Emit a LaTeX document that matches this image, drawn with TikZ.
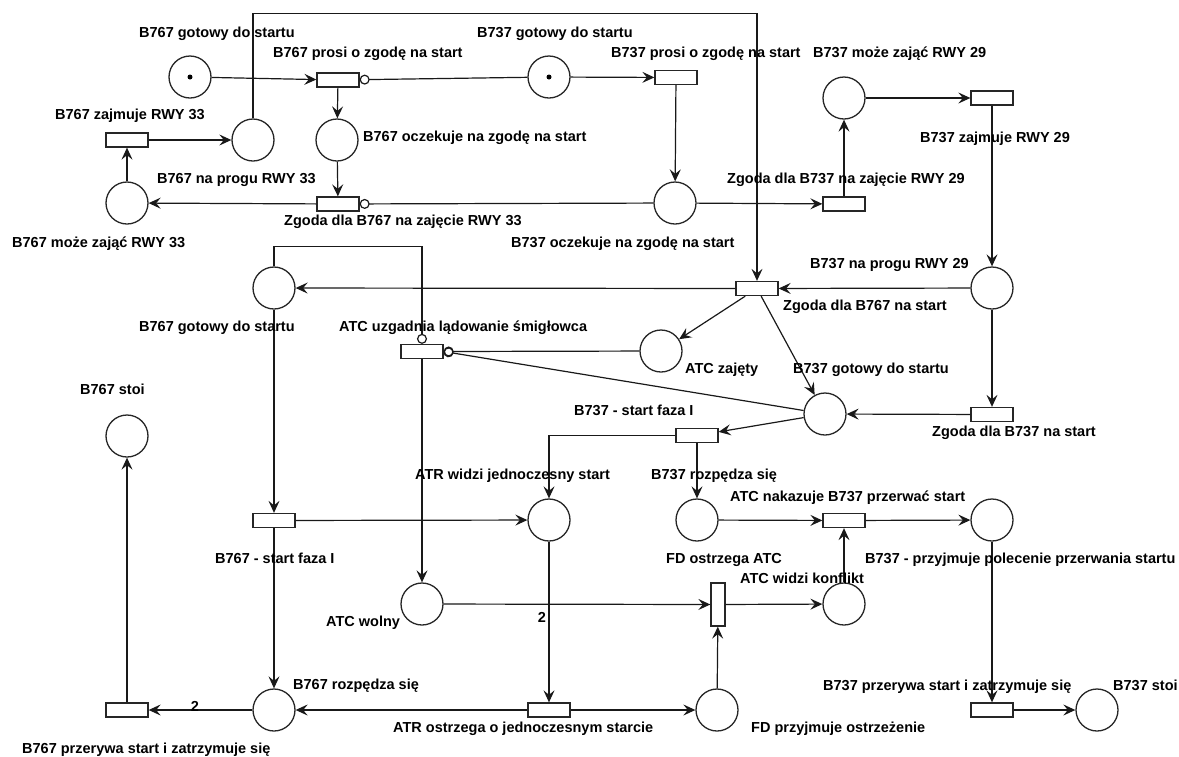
\documentclass[tikz,border=0pt]{standalone}
\usepackage{fontspec}
\setmainfont{Liberation Sans}
\usetikzlibrary{arrows.meta}
\begin{document}
\begin{tikzpicture}[x=1pt,y=-1pt,
  place/.style={circle, draw=black!85, line width=1.3pt, minimum size=42pt, inner sep=0pt},
  trans/.style={rectangle, draw=black!85, line width=1.3pt, minimum width=42pt, minimum height=14pt, inner sep=0pt, fill=white},
  vtrans/.style={rectangle, draw=black!85, line width=1.3pt, minimum width=14pt, minimum height=43pt, inner sep=0pt, fill=white},
  tok/.style={circle, fill=black, minimum size=5pt, inner sep=0pt},
  arc/.style={-{Stealth[length=12pt,width=11pt,inset=4.5pt]}, line width=1.2pt, draw=black!90},
  inh/.style={-{Circle[open,length=10pt,width=10pt]}, line width=1.2pt, draw=black!90},
  lbl/.style={anchor=base west, inner sep=0pt, font=\bfseries\fontsize{14.5}{16}\selectfont},
  wgt/.style={anchor=base, inner sep=0pt, font=\bfseries\fontsize{14.5}{16}\selectfont}
]
\useasboundingbox (0,0) rectangle (1179,756);
% places
\node[place] (P1) at (190,77) {};
\node[tok] (k1) at (190,77) {};
\node[place] (P2) at (253,140) {};
\node[place] (P3) at (337,140) {};
\node[place] (P4) at (127,203) {};
\node[place] (P5) at (549,77) {};
\node[tok] (k5) at (549,77) {};
\node[place] (P6) at (675,203) {};
\node[place] (P7) at (844,98) {};
\node[place] (P8) at (992,288) {};
\node[place] (P9) at (274,288) {};
\node[place] (P10) at (825,414) {};
\node[place] (P11) at (661,351) {};
\node[place] (P12) at (549,520) {};
\node[place] (P13) at (697,520) {};
\node[place] (P14) at (422,604) {};
\node[place] (P15) at (717,710) {};
\node[place] (P16) at (274,710) {};
\node[place] (P17) at (127,436) {};
\node[place] (P18) at (992,520) {};
\node[place] (P19) at (844,604) {};
\node[place] (P20) at (1097,710) {};
% transitions
\node[trans] (T1) at (338,80) {};
\node[trans] (T2) at (338,204) {};
\node[trans] (T3) at (127,140) {};
\node[trans] (T4) at (676,77.5) {};
\node[trans] (T5) at (992,98) {};
\node[trans] (T6) at (844,204) {};
\node[trans] (T7) at (757,288.5) {};
\node[trans] (T8) at (992,414.5) {};
\node[trans] (T9) at (422,351.5) {};
\node[trans] (T10) at (697,435.5) {};
\node[vtrans] (T11) at (718,604.5) {};
\node[trans] (T12) at (549,710) {};
\node[trans] (T13) at (274,520.5) {};
\node[trans] (T14) at (127,710) {};
\node[trans] (T15) at (844,520.5) {};
\node[trans] (T16) at (992,710) {};
% arcs
\draw[arc] (P1) -- (T1);
\draw[arc] (T1) -- (P3);
\draw[arc] (P3) -- (T2);
\draw[arc] (T2) -- (P4);
\draw[arc] (P4) -- (T3);
\draw[arc] (T3) -- (P2);
\draw[arc] (P2.north) -- ++(0,-105) -| (T7.north);
\draw[arc] (P5) -- (T4);
\draw[arc] (T4) -- (P6);
\draw[arc] (P6) -- (T6);
\draw[arc] (T6) -- (P7);
\draw[arc] (P7) -- (T5);
\draw[arc] (T5) -- (P8);
\draw[arc] (P8) -- (T7);
\draw[arc] (P8) -- (T8);
\draw[arc] (T7) -- (P9);
\draw[arc] (T7) -- (P11);
\draw[arc] (T7) -- (P10);
\draw[arc] (T8) -- (P10);
\draw[arc] (P10) -- (T10);
\draw[arc] (T10.west) -| (P12.north);
\draw[arc] (T10) -- (P13);
\draw[arc] (P9) -- (T13);
\draw[arc] (T13) -- (P12);
\draw[arc] (T13) -- (P16);
\draw[arc] (T9) -- (P14);
\draw[arc] (P14) -- (T11);
\draw[arc] (P12) -- (T12);
\draw[arc] (T12) -- (P16);
\draw[arc] (T12) -- (P15);
\draw[arc] (P15) -- (T11);
\draw[arc] (T11) -- (P19);
\draw[arc] (P19) -- (T15);
\draw[arc] (P13) -- (T15);
\draw[arc] (T15) -- (P18);
\draw[arc] (P18) -- (T16);
\draw[arc] (T16) -- (P20);
\draw[arc] (P16) -- (T14);
\draw[arc] (T14) -- (P17);
% inhibitor arcs
\draw[inh] (P5) -- (T1);
\draw[inh] (P6) -- (T2);
\draw[inh] (P9.north) -- ++(0,-20) -| (T9.north);
\draw[inh] (P11) -- (T9.east);
\draw[inh] (P10) -- (T9.east);
% weights
\node[wgt] (w1) at (195,711) {2};
\node[wgt] (w2) at (542,622) {2};
% labels
\node[lbl] (L1) at (139,37) {B767 gotowy do startu};
\node[lbl] (L2) at (273,57) {B767 prosi o zgodę na start};
\node[lbl] (L3) at (55,119) {B767 zajmuje RWY 33};
\node[lbl] (L4) at (363,141) {B767 oczekuje na zgodę na start};
\node[lbl] (L5) at (157,183) {B767 na progu RWY 33};
\node[lbl] (L6) at (284,225) {Zgoda dla B767 na zajęcie RWY 33};
\node[lbl] (L7) at (12,247) {B767 może zająć RWY 33};
\node[lbl] (L8) at (477,37) {B737 gotowy do startu};
\node[lbl] (L9) at (611,57) {B737 prosi o zgodę na start};
\node[lbl] (L10) at (511,247) {B737 oczekuje na zgodę na start};
\node[lbl] (L11) at (727,183) {Zgoda dla B737 na zajęcie RWY 29};
\node[lbl] (L12) at (813,57) {B737 może zająć RWY 29};
\node[lbl] (L13) at (920,142) {B737 zajmuje RWY 29};
\node[lbl] (L14) at (139,331) {B767 gotowy do startu};
\node[lbl] (L15) at (339,331) {ATC uzgadnia lądowanie śmigłowca};
\node[lbl] (L16) at (80,394) {B767 stoi};
\node[lbl] (L17) at (685,373) {ATC zajęty};
\node[lbl] (L18) at (574,415) {B737 - start faza I};
\node[lbl] (L19) at (415,479) {ATR widzi jednoczesny start};
\node[lbl] (L20) at (651,479) {B737 rozpędza się};
\node[lbl] (L21) at (730,501) {ATC nakazuje B737 przerwać start};
\node[lbl] (L22) at (810,268) {B737 na progu RWY 29};
\node[lbl] (L23) at (783,310) {Zgoda dla B767 na start};
\node[lbl] (L24) at (793,373) {B737 gotowy do startu};
\node[lbl] (L25) at (932,436) {Zgoda dla B737 na start};
\node[lbl] (L26) at (215,563) {B767 - start faza I};
\node[lbl] (L27) at (326,626) {ATC wolny};
\node[lbl] (L28) at (293,689) {B767 rozpędza się};
\node[lbl] (L29) at (22,753) {B767 przerywa start i zatrzymuje się};
\node[lbl] (L30) at (666,563) {FD ostrzega ATC};
\node[lbl] (L31) at (740,583) {ATC widzi konflikt};
\node[lbl] (L32) at (393,732) {ATR ostrzega o jednoczesnym starcie};
\node[lbl] (L33) at (751,732) {FD przyjmuje ostrzeżenie};
\node[lbl] (L34) at (865,563) {B737 - przyjmuje polecenie przerwania startu};
\node[lbl] (L35) at (823,690) {B737 przerywa start i zatrzymuje się};
\node[lbl] (L36) at (1113,690) {B737 stoi};
\end{tikzpicture}
\end{document}
